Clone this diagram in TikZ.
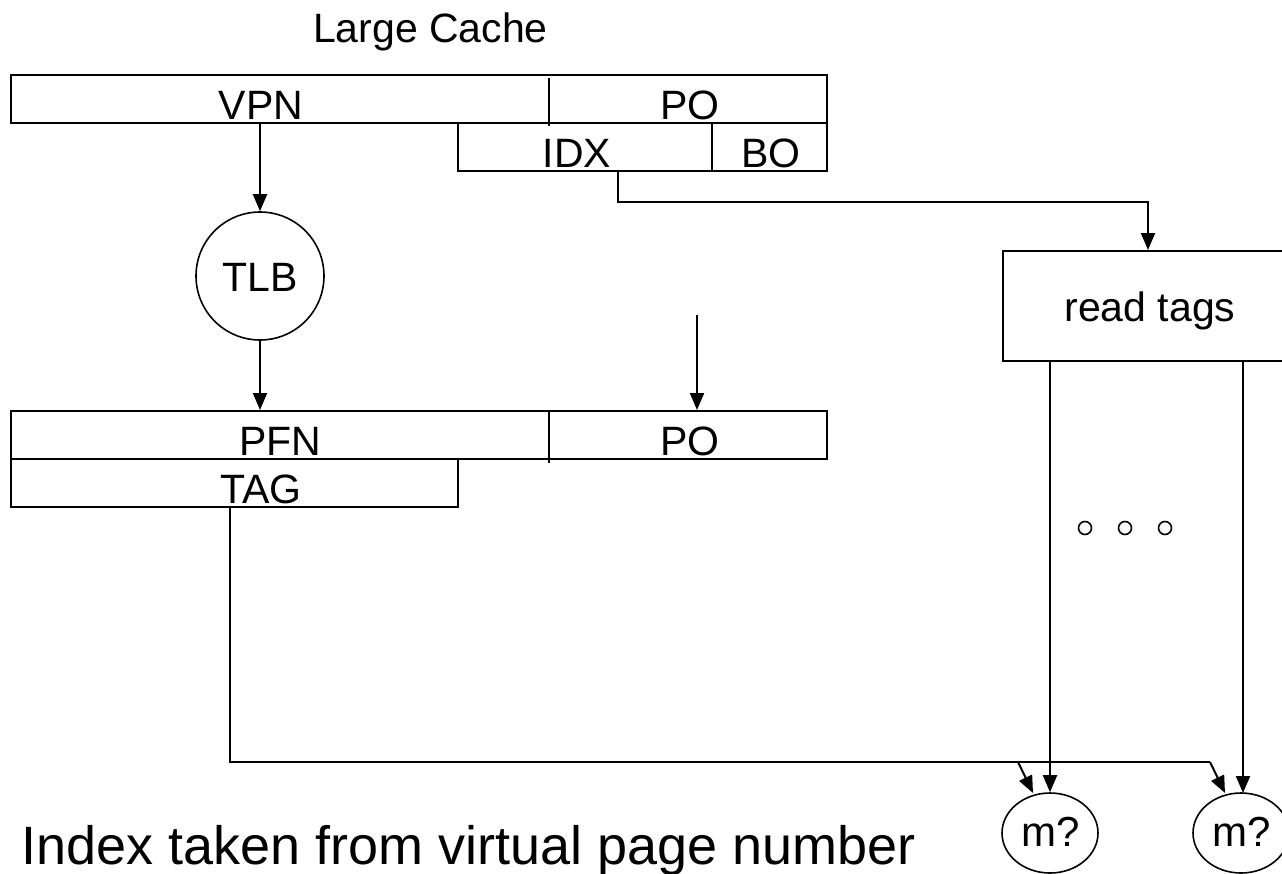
\documentclass[tikz,border=0pt]{standalone}
\usepackage{fontspec}
\setmainfont{Liberation Sans}
\usetikzlibrary{arrows.meta,shapes.geometric}
\begin{document}
\begin{tikzpicture}[x=1pt,y=-1pt,
  line width=2pt,
  fieldbox/.style={draw, line width=2pt, rectangle, inner sep=0pt, anchor=north west},
  lbl/.style={anchor=base, inner sep=0pt, font=\fontsize{41}{48}\selectfont},
  arr/.style={-{Triangle[length=17pt,width=14pt]}, line width=2pt},
  ball/.style={draw, circle, line width=1.6pt, inner sep=0pt},
  match/.style={draw, ellipse, line width=1.6pt, minimum width=96pt, minimum height=80pt, inner sep=0pt},
  dot/.style={draw, circle, line width=1.6pt, minimum size=13pt, inner sep=0pt}
]
\useasboundingbox (0,0) rectangle (1282,873);

% title
\node[anchor=base west, inner sep=0pt, font=\fontsize{41}{48}\selectfont] (title) at (312,42) {Large Cache};

% virtual address
\node[fieldbox, minimum width=816pt, minimum height=48pt] (va) at (10,74) {};
\draw (549,78) -- (549,126);
\node[lbl] (vpn) at (261,119) {VPN};
\node[lbl] (vpo) at (690,119) {PO};
\node[fieldbox, minimum width=369pt, minimum height=48pt] (idxbo) at (457,122) {};
\draw (712,122) -- (712,170);
\node[lbl] (idx) at (577,167) {IDX};
\node[lbl] (bo) at (771,167) {BO};

% TLB
\node[ball, minimum size=128pt] (tlb) at (260,276) {};
\node[lbl] (tlbt) at (260,291) {TLB};
\draw[arr] (va.south -| tlb.north) -- (tlb.north);

% physical address
\node[fieldbox, minimum width=816pt, minimum height=48pt] (pa) at (10,410) {};
\draw (549,412) -- (549,463);
\node[lbl] (pfn) at (280,455) {PFN};
\node[lbl] (ppo) at (690,455) {PO};
\node[fieldbox, minimum width=447pt, minimum height=48pt] (tag) at (10,458) {};
\node[lbl] (tagt) at (261,503) {TAG};
\draw[arr] (tlb.south) -- (tlb.south |- pa.north);
\coordinate (posrc) at (697,315);
\draw[arr] (posrc) -- (posrc |- pa.north);

% read tags
\node[fieldbox, minimum width=292pt, minimum height=110pt] (rt) at (1002,250) {};
\node[lbl] (rtt) at (1150,321) {read tags};
\coordinate (idxout) at (618,170);
\coordinate (idxturn) at (618,202);
\draw[arr] (idxout) -- (idxturn) -| (rt.north -| 1148,0);

% matchers
\node[match] (m1) at (1050,833) {};
\node[match] (m2) at (1241,833) {};
\node[lbl, font=\fontsize{42}{48}\selectfont] (m1t) at (1051,846) {m?};
\node[lbl, font=\fontsize{42}{48}\selectfont] (m2t) at (1242,846) {m?};
\draw[arr] (rt.south -| m1.north) -- (m1.north);
\draw[arr] (rt.south -| 1243,0) -- (1243,793);

% dots
\node[dot] (d1) at (1085,528) {};
\node[dot] (d2) at (1125,528) {};
\node[dot] (d3) at (1165,528) {};

% tag comparison line
\coordinate (tagout) at (230,506);
\coordinate (c1) at (1018,762);
\coordinate (c2) at (1210,762);
\draw (tagout) |- (c2);
\draw[arr] (c1) -- (1033,793);
\draw[arr] (c2) -- (1225,793);

% caption
\node[anchor=base west, inner sep=0pt, font=\fontsize{54}{60}\selectfont] (cap) at (20,864) {Index taken from virtual page number};
\end{tikzpicture}
\end{document}
